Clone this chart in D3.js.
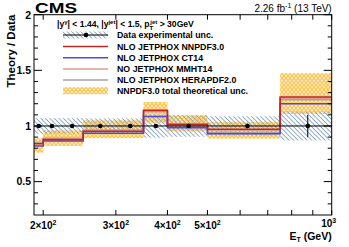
<!DOCTYPE html>
<html>
<head>
<meta charset="utf-8">
<script src="https://cdn.jsdelivr.net/npm/d3@7"></script>
<style>
  body { margin: 0; background: #fff; }
  text { font-family: "Liberation Sans", Arial, sans-serif; }
</style>
</head>
<body>
<svg id="chart" width="349" height="247"></svg>
<script>
// bin edges (GeV) and data points
var binEdges = [190, 200, 220, 250, 300, 350, 400, 500, 750, 1000];
var dataCenters = [195, 210, 235, 275, 325, 375, 450, 625, 875];
var dataRatio = [1, 1, 1, 1, 1, 1, 1, 1, 1];
var dataStat = [0.004, 0.004, 0.005, 0.005, 0.006, 0.008, 0.01, 0.02, 0.1];
var dataExpUnc = [0.07, 0.07, 0.07, 0.068, 0.068, 0.105, 0.097, 0.087, 0.13];

// theory / data per bin
var nnpdf = [0.84, 0.877, 0.877, 0.952, 0.952, 1.14, 1.013, 0.97, 1.26];
var ct14 = [0.82, 0.865, 0.865, 0.935, 0.935, 1.085, 0.985, 0.93, 1.2];
var mmht14 = [0.845, 0.885, 0.885, 0.958, 0.958, 1.128, 1.008, 0.962, 1.25];
var herapdf = [0.85, 0.89, 0.89, 0.962, 0.962, 1.13, 1.02, 0.942, 1.237];
var nnpdfLo = [0.76, 0.82, 0.82, 0.89, 0.89, 1.03, 0.952, 0.886, 1.11];
var nnpdfHi = [0.89, 0.96, 0.96, 1.05, 1.05, 1.215, 1.095, 1.035, 1.475];

var yTicks = [0.5, 1, 1.5, 2];
var xTicks = [200, 300, 400, 500, 1000];
var xTickLabels = ["2", "3", "4", "5", ""];
var xMinor = [600, 700, 800, 900];

var svg = d3.select("#chart");
var pLeft = 34, pRight = 331.7, pTop = 14.7, pBottom = 215;

var x = d3.scaleLog().domain([190, 1000]).range([pLeft, pRight]);
var y = d3.scaleLinear().domain([0.2, 2]).range([pBottom, pTop]);

var defs = svg.append("defs");
var hatch = defs.append("pattern")
    .attr("id", "hatch")
    .attr("patternUnits", "userSpaceOnUse")
    .attr("width", 4).attr("height", 3.2)
    .attr("patternTransform", "rotate(45)");
hatch.append("rect").attr("x", 0).attr("y", 0).attr("width", 4).attr("height", 0.9)
    .attr("fill", "#88a2bd");

var dots = defs.append("pattern")
    .attr("id", "dots")
    .attr("patternUnits", "userSpaceOnUse")
    .attr("width", 4).attr("height", 4.6);
dots.append("rect").attr("width", 4).attr("height", 4.6).attr("fill", "#ffc550");
[[0, 0], [4, 0], [2, 2.3], [0, 4.6], [4, 4.6]].forEach(function(p) {
    dots.append("circle").attr("cx", p[0]).attr("cy", p[1]).attr("r", 0.95).attr("fill", "#fff");
});

var bins = d3.range(dataCenters.length);
var g = svg.append("g");

// theory total uncertainty
g.selectAll(".band")
    .data(bins)
    .enter().append("rect")
    .attr("class", "band")
    .attr("x", i => x(binEdges[i]))
    .attr("width", i => x(binEdges[i + 1]) - x(binEdges[i]))
    .attr("y", i => y(nnpdfHi[i]))
    .attr("height", i => y(nnpdfLo[i]) - y(nnpdfHi[i]))
    .attr("fill", "url(#dots)");

// data experimental uncertainty
g.selectAll(".exp")
    .data(bins)
    .enter().append("rect")
    .attr("class", "exp")
    .attr("x", i => x(binEdges[i]))
    .attr("width", i => x(binEdges[i + 1]) - x(binEdges[i]))
    .attr("y", i => y(dataRatio[i] + dataExpUnc[i]))
    .attr("height", i => y(dataRatio[i] - dataExpUnc[i]) - y(dataRatio[i] + dataExpUnc[i]))
    .attr("fill", "url(#hatch)");

// theory step lines
var step = d3.line().x(d => x(d[0])).y(d => y(d[1])).curve(d3.curveStepAfter);
function stepPts(vals) {
    var pts = vals.map((v, i) => [binEdges[i], v]);
    pts.push([binEdges[binEdges.length - 1], vals[vals.length - 1]]);
    return pts;
}
var series = [
    {vals: herapdf, color: "#a3a3a3"},
    {vals: mmht14, color: "#d9a294"},
    {vals: ct14, color: "#4848f0"},
    {vals: nnpdf, color: "#c42424"}
];
series.forEach(function(s) {
    g.append("path")
        .attr("d", step(stepPts(s.vals)))
        .attr("fill", "none")
        .attr("stroke", s.color)
        .attr("stroke-width", 1.6);
});

// data points
g.selectAll(".xerr")
    .data(bins)
    .enter().append("line")
    .attr("x1", i => x(binEdges[i]))
    .attr("x2", i => x(binEdges[i + 1]))
    .attr("y1", i => y(dataRatio[i]))
    .attr("y2", i => y(dataRatio[i]))
    .attr("stroke", "#000").attr("stroke-width", 1);
g.selectAll(".yerr")
    .data(bins)
    .enter().append("line")
    .attr("x1", i => x(dataCenters[i]))
    .attr("x2", i => x(dataCenters[i]))
    .attr("y1", i => y(dataRatio[i] + dataStat[i]))
    .attr("y2", i => y(dataRatio[i] - dataStat[i]))
    .attr("stroke", "#000").attr("stroke-width", 1);
g.selectAll(".pt")
    .data(bins)
    .enter().append("circle")
    .attr("cx", i => x(dataCenters[i]))
    .attr("cy", i => y(dataRatio[i]))
    .attr("r", 2.3)
    .attr("fill", "#000");

// frame and ticks
svg.append("rect")
    .attr("x", pLeft).attr("y", pTop)
    .attr("width", pRight - pLeft).attr("height", pBottom - pTop)
    .attr("fill", "none").attr("stroke", "#000").attr("stroke-width", 1);

var yMinor = d3.range(3, 21).map(v => v / 10);
yMinor.forEach(function(v) {
    var major = yTicks.indexOf(v) >= 0;
    var len = major ? 8 : 4;
    svg.append("line").attr("x1", pLeft).attr("x2", pLeft + len)
        .attr("y1", y(v)).attr("y2", y(v)).attr("stroke", "#000");
    svg.append("line").attr("x1", pRight).attr("x2", pRight - len)
        .attr("y1", y(v)).attr("y2", y(v)).attr("stroke", "#000");
});

svg.append("g")
    .attr("transform", "translate(" + (pLeft - 3) + ",0)")
    .selectAll("text")
    .data(yTicks)
    .enter().append("text")
    .attr("y", d => y(d) + 3.8)
    .attr("text-anchor", "end")
    .style("font-size", "10.5px")
    .style("font-weight", "bold")
    .text(d => d);

xTicks.concat(xMinor).forEach(function(v) {
    svg.append("line").attr("x1", x(v)).attr("x2", x(v))
        .attr("y1", pBottom).attr("y2", pBottom - 5).attr("stroke", "#000");
    svg.append("line").attr("x1", x(v)).attr("x2", x(v))
        .attr("y1", pTop).attr("y2", pTop + 5).attr("stroke", "#000");
});

xTicks.forEach(function(v, i) {
    var t = svg.append("text")
        .attr("x", x(v))
        .attr("y", 228.5)
        .attr("text-anchor", "middle")
        .style("font-size", "10px")
        .style("font-weight", "bold");
    if (xTickLabels[i]) {
        t.append("tspan").text(xTickLabels[i] + "\u00d710");
        t.append("tspan").attr("dy", -4).style("font-size", "7px").text("2");
    } else {
        t.attr("x", x(v) - 3).attr("y", 226.5).append("tspan").text("10");
        t.append("tspan").attr("dy", -4).style("font-size", "7px").text("3");
    }
});

// axis titles
var xt = svg.append("text")
    .attr("x", pRight).attr("y", 239.5)
    .attr("text-anchor", "end")
    .style("font-size", "10.5px")
    .style("font-weight", "bold");
xt.append("tspan").text("E");
xt.append("tspan").attr("dy", 2.5).style("font-size", "7px").text("T");
xt.append("tspan").attr("dy", -2.5).text(" (GeV)");

svg.append("text")
    .attr("transform", "translate(15," + pTop + ") rotate(-90)")
    .attr("text-anchor", "end")
    .style("font-size", "11.5px")
    .style("font-weight", "bold")
    .text("Theory / Data");

svg.append("text")
    .attr("x", 35).attr("y", 13)
    .attr("textLength", 42).attr("lengthAdjust", "spacingAndGlyphs")
    .style("font-size", "15px")
    .style("font-weight", "bold")
    .text("CMS");

var lumi = svg.append("text")
    .attr("x", pRight).attr("y", 12)
    .attr("text-anchor", "end")
    .style("font-size", "10px");
lumi.append("tspan").text("2.26 fb");
lumi.append("tspan").attr("dy", -4).style("font-size", "7px").text("-1");
lumi.append("tspan").attr("dy", 4).text(" (13 TeV)");

// legend
var hdr = svg.append("text")
    .attr("x", 57).attr("y", 27)
    .style("font-size", "8.6px")
    .style("font-weight", "bold");
hdr.append("tspan").text("|y");
hdr.append("tspan").attr("dy", -3).style("font-size", "6px").text("\u03b3");
hdr.append("tspan").attr("dy", 3).text("| < 1.44, |y");
hdr.append("tspan").attr("dy", -3).style("font-size", "6px").text("jet");
hdr.append("tspan").attr("dy", 3).text("| < 1.5, p");
hdr.append("tspan").attr("dy", 3).style("font-size", "6px").text("T");
hdr.append("tspan").attr("dx", -3).attr("dy", -6).style("font-size", "6px").text("jet");
hdr.append("tspan").attr("dy", 3).text(" > 30GeV");

var legendNames = ["Data experimental unc.", "NLO JETPHOX NNPDF3.0", "NLO JETPHOX CT14",
    "NO JETPHOX MMHT14", "NLO JETPHOX HERAPDF2.0", "NNPDF3.0 total theoretical unc."];
var legendY = [35, 46.5, 57.7, 69, 80, 90.7];
var lx0 = 63, lx1 = 108;

svg.append("rect").attr("x", lx0).attr("y", legendY[0] - 3.5)
    .attr("width", lx1 - lx0).attr("height", 7).attr("fill", "url(#hatch)");
svg.append("line").attr("x1", lx0).attr("x2", lx1)
    .attr("y1", legendY[0]).attr("y2", legendY[0]).attr("stroke", "#000");
svg.append("circle").attr("cx", 86).attr("cy", legendY[0]).attr("r", 2.3).attr("fill", "#000");

[nnpdf, ct14, mmht14, herapdf].forEach(function(vals, i) {
    var s = series.find(d => d.vals === vals);
    svg.append("line").attr("x1", lx0).attr("x2", lx1)
        .attr("y1", legendY[i + 1]).attr("y2", legendY[i + 1])
        .attr("stroke", s.color).attr("stroke-width", 1.6);
});
svg.append("rect").attr("x", lx0).attr("y", legendY[5] - 3.5)
    .attr("width", lx1 - lx0).attr("height", 7).attr("fill", "url(#dots)");

svg.selectAll(".legtext")
    .data(legendNames)
    .enter().append("text")
    .attr("x", 117)
    .attr("y", (d, i) => legendY[i] + 3.1)
    .style("font-size", "8.8px")
    .style("font-weight", "bold")
    .text(d => d);
</script>
</body>
</html>
